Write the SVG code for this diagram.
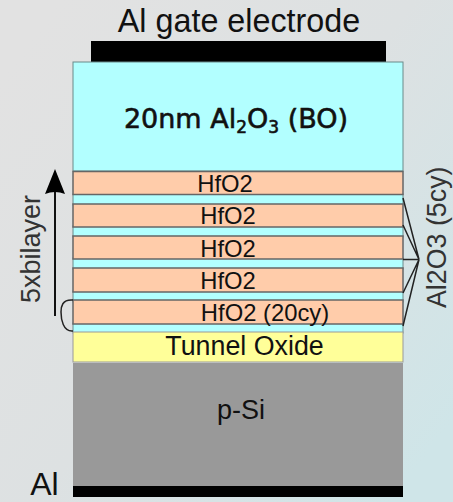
<svg xmlns="http://www.w3.org/2000/svg" width="453" height="502" viewBox="0 0 453 502">
<defs>
<linearGradient id="bg" gradientUnits="userSpaceOnUse" x1="0" y1="80" x2="453" y2="420">
<stop offset="0" stop-color="#e2e2e2"/><stop offset="0.5" stop-color="#dde1e2"/><stop offset="1" stop-color="#cfe5e8"/>
</linearGradient>
</defs>
<style>
text{font-family:"Liberation Sans",Arial,sans-serif;fill:#111;text-anchor:middle}
.h{fill:#ffccaa;stroke:#666;stroke-width:1.5}
.c{fill:#b2ffff;stroke:#6a8a8a;stroke-width:1}
.t{font-size:23.8px}
.l{fill:none;stroke:#222;stroke-width:1.5}
</style>
<rect width="453" height="502" fill="url(#bg)"/>
<g id="gate"><rect x="91" y="41" width="295" height="21" fill="#000"/><text x="239" y="32" font-size="32.3">Al gate electrode</text></g>
<g id="blocking-oxide"><rect class="c" x="73" y="62" width="330" height="109"/><text x="236" y="128" font-size="27" stroke="#111" stroke-width="0.6" style="font-family:'DejaVu Sans',sans-serif">20nm Al<tspan font-size="17" dy="5">2</tspan><tspan dy="-5">O</tspan><tspan font-size="17" dy="5">3</tspan><tspan dy="-5"> (BO)</tspan></text></g>
<g id="al2o3-stack">
<rect class="c" x="73" y="194" width="330" height="11"/>
<rect class="c" x="73" y="226" width="330" height="11"/>
<rect class="c" x="73" y="258" width="330" height="11"/>
<rect class="c" x="73" y="291" width="330" height="11"/>
<rect class="c" x="73" y="323" width="330" height="10"/>
</g>
<g id="hfo2-1"><rect class="h" x="73" y="171.5" width="330" height="23"/><text class="t" x="225" y="192">HfO2</text></g>
<g id="hfo2-2"><rect class="h" x="73" y="204" width="330" height="23"/><text class="t" x="228" y="224">HfO2</text></g>
<g id="hfo2-3"><rect class="h" x="73" y="236" width="330" height="23"/><text class="t" x="228" y="257">HfO2</text></g>
<g id="hfo2-4"><rect class="h" x="73" y="268" width="330" height="24"/><text class="t" x="228" y="289">HfO2</text></g>
<g id="hfo2-5"><rect class="h" x="73" y="300" width="330" height="24"/><text class="t" x="265" y="321">HfO2 (20cy)</text></g>
<g id="tunnel-oxide"><rect x="73" y="332" width="330" height="30" fill="#ffff99" stroke="#999" stroke-width="1"/><text x="244.5" y="355" font-size="26.8">Tunnel Oxide</text></g>
<g id="p-si"><rect x="73" y="363" width="330" height="123" fill="#999"/><text x="241" y="419" font-size="27">p-Si</text></g>
<g id="al-back"><rect x="73" y="486" width="330" height="11" fill="#000"/><text x="44.5" y="495" font-size="32">Al</text></g>
<g id="connectors">
<path d="M55 316V190" stroke="#111" stroke-width="2" fill="none"/>
<path d="M45 194Q55 190 65 194L55 169Z" fill="#000"/>
<path class="l" d="M73 300C62 299 61 307 61 312C61 319 63 332 73 331"/>
<path class="l" d="M403 198L419 259.5L403 225M403 259.5H419M403 293L419 259.5L403 326"/>
</g>
<text x="0" y="0" font-size="27" fill="#333" transform="translate(40 303) rotate(-90)" style="text-anchor:start;fill:#333">5xbilayer</text>
<text x="0" y="0" font-size="26.8" transform="translate(446 308) rotate(-90)" style="text-anchor:start;fill:#333">Al2O3 (5cy)</text>
</svg>
